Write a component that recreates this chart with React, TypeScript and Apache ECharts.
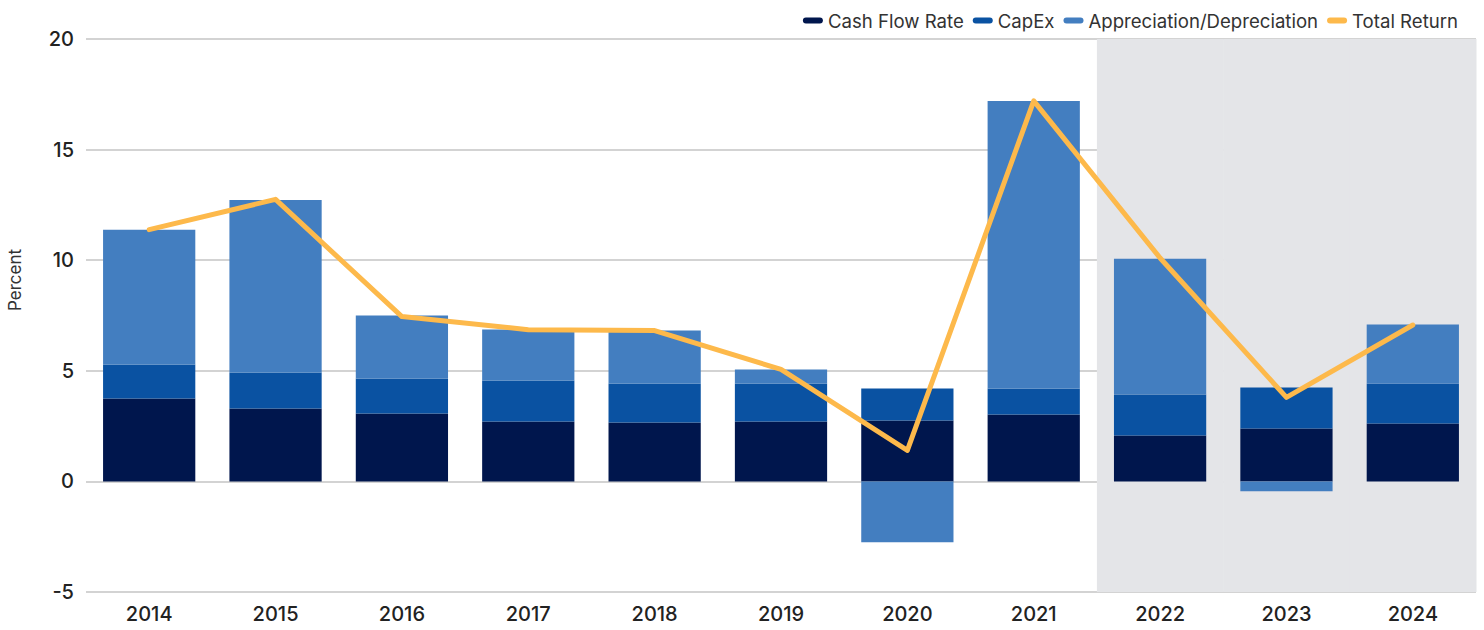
import React, { useEffect, useRef } from "react";
import * as echarts from "echarts";

const years = ["2014", "2015", "2016", "2017", "2018", "2019", "2020", "2021", "2022", "2023", "2024"];
const cashFlowRate = [3.75, 3.3, 3.07, 2.71, 2.66, 2.71, 2.75, 3.02, 2.08, 2.39, 2.62];
const capEx = [1.53, 1.62, 1.58, 1.85, 1.77, 1.72, 1.45, 1.18, 1.85, 1.85, 1.8];
const appreciation = [6.1, 7.8, 2.85, 2.31, 2.39, 0.63, -2.75, 13.0, 6.14, -0.45, 2.67];
const totalReturn = [11.38, 12.75, 7.45, 6.86, 6.82, 5.06, 1.4, 17.2, 10.1, 3.8, 7.07];
const shadedYears = ["2022", "2023", "2024"];

const C_CASH = "#00164D";
const C_CAPEX = "#0A52A2";
const C_APPR = "#437EC0";
const C_TR = "#FDB94B";
const FONT = "Inter, 'Noto Sans', sans-serif";
const PILL = "path://M3,0 L17,0 A3,3 0 0 1 17,6 L3,6 A3,3 0 0 1 3,0 Z";

export default function App() {
  const ref = useRef<HTMLDivElement>(null);
  useEffect(() => {
    if (!ref.current) return;
    const chart = echarts.init(ref.current, null, { renderer: "svg" });
    chart.setOption({
      animation: false,
      textStyle: { fontFamily: FONT },
      grid: { left: 86, right: 8, top: 39, bottom: 38, containLabel: false },
      legend: {
        right: 21,
        top: 6,
        itemWidth: 20,
        itemHeight: 6,
        itemGap: 9,
        textStyle: { fontSize: 18.6, color: "#333", fontFamily: FONT },
        data: [
          { name: "Cash Flow Rate", icon: PILL },
          { name: "CapEx", icon: PILL },
          { name: "Appreciation/Depreciation", icon: PILL },
          { name: "Total Return", icon: PILL },
        ],
      },
      graphic: [
        {
          type: "text",
          x: 15,
          y: 280,
          rotation: Math.PI / 2,
          style: {
            text: "Percent",
            fontSize: 17,
            fill: "#333",
            fontFamily: FONT,
            align: "center",
            verticalAlign: "middle",
          },
        },
      ],
      xAxis: {
        type: "category",
        data: years,
        axisLine: { show: false },
        axisTick: { show: false },
        axisLabel: { fontSize: 20, fontWeight: 500, color: "#222", margin: 12, fontFamily: FONT },
      },
      yAxis: {
        type: "value",
        min: -5,
        max: 20,
        interval: 5,
        axisLine: { show: false },
        axisTick: { show: false },
        axisLabel: { fontSize: 20, fontWeight: 500, color: "#222", margin: 12, fontFamily: FONT },
        splitLine: { lineStyle: { color: "#C4C4C4", width: 1.5 } },
      },
      series: [
        {
          name: "shade",
          type: "custom",
          z: 0,
          silent: true,
          data: shadedYears.map((y) => [years.indexOf(y)]),
          encode: { x: 0 },
          renderItem: (params: any, api: any) => {
            const idx = api.value(0);
            const pt = api.coord([idx, 0]);
            const bw = api.size([1, 0])[0];
            const cs = params.coordSys;
            return {
              type: "rect",
              shape: { x: pt[0] - bw / 2, y: cs.y, width: bw + 0.5, height: cs.height },
              style: { fill: "#E4E5E8" },
              z2: 0,
            };
          },
        },
        {
          name: "Cash Flow Rate",
          type: "bar",
          stack: "total",
          data: cashFlowRate,
          barCategoryGap: "27%",
          itemStyle: { color: C_CASH },
          z: 2,
        },
        {
          name: "CapEx",
          type: "bar",
          stack: "total",
          data: capEx,
          itemStyle: { color: C_CAPEX },
          z: 2,
        },
        {
          name: "Appreciation/Depreciation",
          type: "bar",
          stack: "total",
          data: appreciation,
          itemStyle: { color: C_APPR },
          z: 2,
        },
        {
          name: "Total Return",
          type: "line",
          data: totalReturn,
          symbol: "none",
          itemStyle: { color: C_TR },
          lineStyle: { color: C_TR, width: 5, cap: "round", join: "round" },
          z: 5,
        },
      ],
    });
    return () => chart.dispose();
  }, []);
  return (
    <div
      ref={ref}
      style={{ position: "absolute", left: 0, top: 0, width: 1484, height: 630 }}
    />
  );
}
